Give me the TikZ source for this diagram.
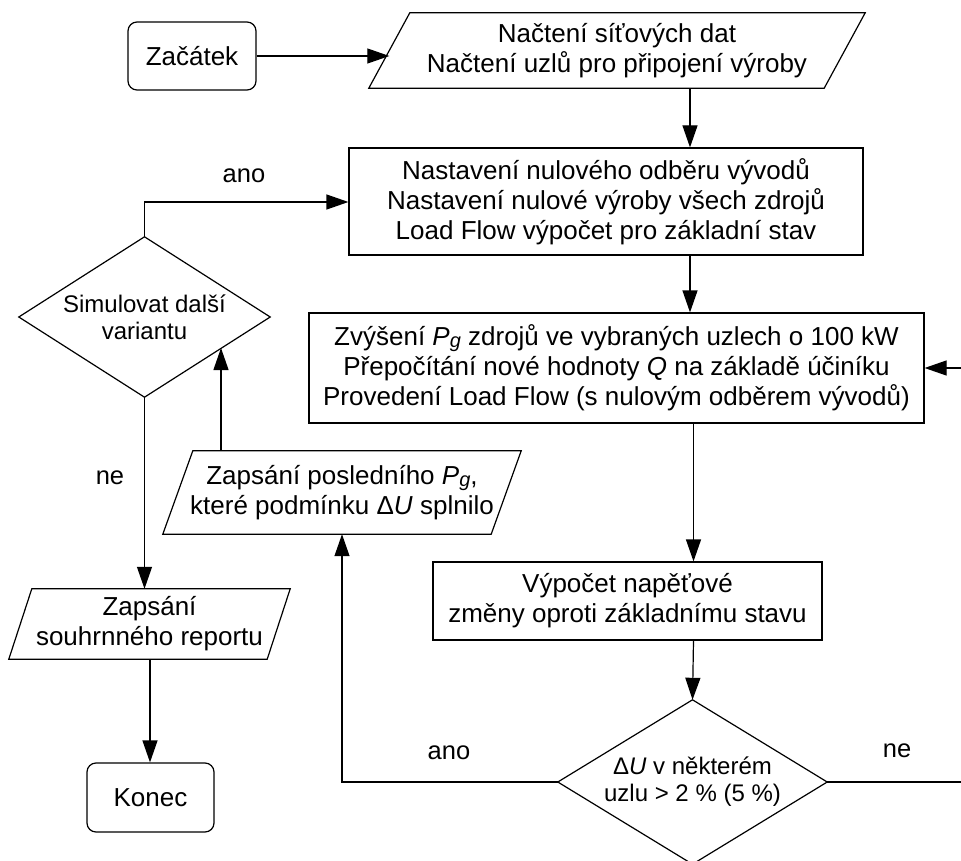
\documentclass[tikz,border=0pt]{standalone}
\usepackage{fontspec}
\setmainfont{Liberation Sans}
\usetikzlibrary{arrows.meta,calc}
% generator power symbol P_g
\newcommand\pgsym{\textit{P}\raisebox{-0.08em}{\fontsize{20}{20}\selectfont\textit{g}}}
\begin{document}
\begin{tikzpicture}[x=1pt,y=-1pt,
  line/.style={line width=1.2pt, line join=miter},
  arr/.style={line, -{Triangle[length=22pt,width=15pt]}},
  txt/.style={font=\fontsize{26}{30}\selectfont, align=center, inner sep=0pt},
  dtxt/.style={font=\fontsize{24}{27}\selectfont, align=center, inner sep=0pt},
  procbox/.style={txt, draw, line width=1.2pt},
  termbox/.style={procbox, rounded corners=9pt},
  lbl/.style={font=\fontsize{25.5}{30}\selectfont, inner sep=0pt}]
\useasboundingbox (0,0) rectangle (961,861);

% terminals
\node[termbox, minimum width=128pt, minimum height=68pt] (start) at (192,56) {Začátek};
\node[termbox, minimum width=127pt, minimum height=69pt] (stop) at (150.5,797.5) {Konec};

% input / output (parallelograms drawn around plain nodes)
\node[txt, minimum width=455pt, minimum height=75pt] (load) at (617,50.5)
  {Načtení síťových dat\\Načtení uzlů pro připojení výroby};
\node[txt, minimum width=328pt, minimum height=83pt] (wlast) at (342,492.5)
  {Zapsání posledního \pgsym,\\které podmínku Δ\textit{U} splnilo};
\node[txt, minimum width=258pt, minimum height=70pt] (wsum) at (149.5,624)
  {Zapsání\\souhrnného reportu};
\foreach \n/\o in {load/20.5, wlast/15, wsum/11.5}{
  \draw[line] ($(\n.north west)+(\o,0)$) -- ($(\n.north east)+(\o,0)$)
    -- ($(\n.south east)+(-\o,0)$) -- ($(\n.south west)+(-\o,0)$) -- cycle;
}

% processes
\node[procbox, minimum width=514pt, minimum height=107pt] (set) at (606,201.5)
  {Nastavení nulového odběru vývodů\\Nastavení nulové výroby všech zdrojů\\Load Flow výpočet pro základní stav};
\node[procbox, minimum width=615pt, minimum height=110pt] (inc) at (616.5,368)
  {Zvýšení \pgsym{} zdrojů ve vybraných uzlech o 100 kW\\Přepočítání nové hodnoty \textit{Q} na základě účiníku\\Provedení Load Flow (s nulovým odběrem vývodů)};
\node[procbox, minimum width=389pt, minimum height=78pt] (calc) at (627.5,601)
  {Výpočet napěťové\\změny oproti základnímu stavu};

% decisions (diamonds drawn through plain nodes)
\node[dtxt, minimum width=251pt, minimum height=160pt] (sim) at (144.5,317)
  {Simulovat další\\variantu};
\node[dtxt, minimum width=269pt, minimum height=164pt] (cond) at (692.5,782)
  {Δ\textit{U} v některém\\uzlu > 2 \% (5 \%)};
\foreach \n in {sim, cond}{
  \draw[line] (\n.north) -- (\n.east) -- (\n.south) -- (\n.west) -- cycle;
}

% helper points
\coordinate (colA) at (690,0);
\coordinate (colB) at (693.5,0);
\coordinate (colC) at (150,0);
\coordinate (upx) at (221,0);
\coordinate (simedge) at (221,348);
\coordinate (rin) at (961,368);
\coordinate (rout) at (961,782);

% connectors
\draw[arr] (start.east) -- (start.east -| load.west);
\draw[arr] (load.south -| colA) -- (set.north -| colA);
\draw[arr] (set.south -| colA) -- (inc.north -| colA);
\draw[arr] (inc.south -| colB) -- (calc.north -| colB);
\draw[arr] (calc.south -| colB) -- (cond.north);
\draw[arr] (cond.west) -| (wlast.south);
\draw[line] (cond.east) -- (rout);
\draw[arr] (rin) -- (inc.east);
\draw[arr] (wlast.north -| upx) -- (simedge);
\draw[arr] (sim.north) |- ($(set.west)+(0,0.5)$);
\draw[arr] (sim.south) -- (wsum.north -| sim.south);
\draw[arr] (wsum.south -| colC) -- (stop.north -| colC);

% branch labels
\node[lbl] (anoTop) at (244,176) {ano};
\node[lbl] (neLeft) at (110,478) {ne};
\node[lbl] (anoBot) at (449,753) {ano};
\node[lbl] (neRight) at (897,751) {ne};
\end{tikzpicture}
\end{document}
